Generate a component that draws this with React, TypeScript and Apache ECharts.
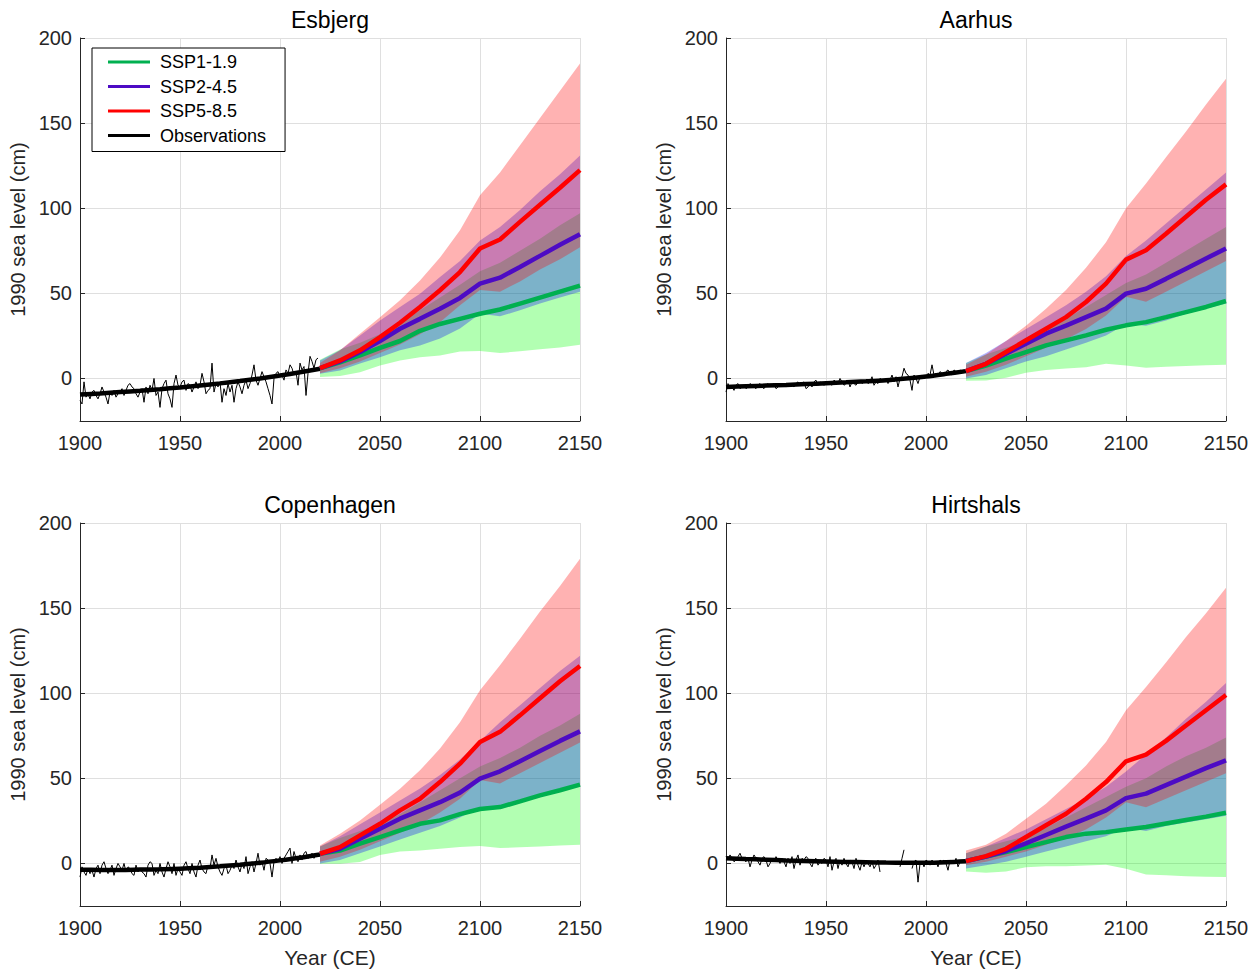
import React, { useEffect, useRef } from 'react';
import * as echarts from 'echarts';

// ---------- shared axes ----------
const projYears = [2020, 2030, 2040, 2050, 2060, 2070, 2080, 2090, 2100, 2110, 2120, 2130, 2140, 2150];
const trendYears = [1900, 1910, 1920, 1930, 1940, 1950, 1960, 1970, 1980, 1990, 2000, 2010, 2020];
const obsStartYear = 1900;
const yTicks = [0, 50, 100, 150, 200];
const stationNames = ['Esbjerg', 'Aarhus', 'Copenhagen', 'Hirtshals'];
const scenarioNames = ['SSP1-1.9', 'SSP2-4.5', 'SSP5-8.5'];

// ---------- Esbjerg ----------
const esbObs = [
  -13, -15, -2, -11, -9, -12, -8, -7, -10, -12,
  -9, -5, -8, -11, -15, -8, -10, -7, -11, -9,
  -8, -6, -10, -7, -4, -3, -5, -6, -9, -11,
  -8, -6, -14, -5, -9, -4, -7, 0, -10, -8,
  -17, -6, -3, -1, -9, -12, -17, -3, 2, -4,
  -5, -2, -1, -7, -3, -4, -8, -5, -2, -6,
  -4, 3, -2, -9, -7, -6, 9, -8, -3, -5,
  -2, -14, -6, -10, -3, -8, -4, -14, -6, -2,
  -5, -9, -4, -1, -6, -3, 2, 8, -1, -4,
  0, 4, 1, -2, -6, -10, -15, 0, 3, 4,
  1, 2, -1, 5, 3, 8, 6, 2, 4, -4,
  9, 5, 7, -10, 3, 13, 10, 6, 11, 12,
];
const esbTrend = [-9.5, -8.8, -8.0, -7.2, -6.3, -5.3, -4.1, -2.9, -1.5, 0.0, 1.7, 3.6, 5.7];
const esbSsp119Med = [6, 9.5, 13.5, 18, 22, 28, 32, 35, 38, 40.5, 44, 47.5, 51, 54.5];
const esbSsp119Lo = [0.8, 1.4, 3.7, 7.6, 10.6, 12.5, 13.5, 15.9, 16.1, 14.9, 16, 17.2, 18.2, 19.8];
const esbSsp119Hi = [11, 17, 21, 26, 33, 40, 47.5, 55, 63, 68, 75, 82, 90, 97];
const esbSsp245Med = [6, 10, 15.5, 22, 29.2, 35, 41, 47.3, 55.7, 59.2, 65.5, 72, 78.5, 84.7];
const esbSsp245Lo = [2.7, 4.7, 8.8, 12.5, 16.5, 19.4, 23.5, 29.4, 38, 36.5, 40, 44, 47.5, 51];
const esbSsp245Hi = [10.6, 16.5, 25.3, 34, 42, 49.8, 59.6, 69, 81, 89, 99, 110, 120, 131];
const esbSsp585Med = [6.1, 10.6, 16.5, 24.3, 32.7, 42, 51.8, 62.5, 76.3, 81.6, 92, 102, 112, 122.4];
const esbSsp585Lo = [3, 6, 10, 15, 20, 26, 33, 43, 52, 51, 57, 64, 70, 77];
const esbSsp585Hi = [9, 16.5, 26.3, 36, 45.9, 57.6, 71, 87, 107.6, 121, 137, 153, 169, 185];

// ---------- Aarhus ----------
const aarObs = [
  -8, -3, -6, -5, -7, -4, -3, -6, -5, -4,
  -6, -5, -3, -4, -5, -6, -4, -3, -5, -6,
  -4, -3, -5, -4, -3, -6, -5, -4, -3, -4,
  -5, -4, -3, -4, -5, -3, -2, -4, -3, -2,
  -6, -5, -3, -5, -2, -1, -4, -2, -3, -4,
  -3, -2, -3, -4, -1, -2, -3, 0, -2, -4,
  -3, -1, -5, -2, -3, -4, -2, -1, -3, -2,
  -1, -3, -2, 1, -4, -2, -3, 0, -1, -2,
  0, -3, -1, 2, -2, 1, -5, 0, 1, 6,
  3, 2, -1, -7, 2, 0, -3, 1, 2, 0,
  1, 3, 2, 8, 2, 3, 1, 4, 3, 2,
  4, 5, 3, 2, 5, 4, 3, 5, 4, 5,
];
const aarTrend = [-5.0, -4.6, -4.2, -3.8, -3.3, -2.8, -2.3, -1.7, -1.0, 0.0, 1.2, 2.7, 4.3];
const aarSsp119Med = [4.3, 7.6, 11.6, 15.5, 19.4, 22.4, 25.3, 28.6, 31.2, 33.1, 36, 39, 42, 45.5];
const aarSsp119Lo = [-1.4, -1.2, 0.4, 3.3, 4.9, 5.8, 6.6, 8.6, 7.6, 6.3, 6.8, 7.3, 7.7, 8];
const aarSsp119Hi = [9, 14, 18, 22, 28, 35, 42, 49, 56, 61, 68, 75, 82, 89];
const aarSsp245Med = [4.3, 8.6, 14.5, 20.4, 26.3, 31, 36, 41, 49.8, 52.7, 58.5, 64.5, 70.5, 76.3];
const aarSsp245Lo = [0, 2, 6, 10, 13, 17, 21, 25.3, 32, 31, 34, 38, 41, 44];
const aarSsp245Hi = [9, 15, 22, 29, 36, 43, 51, 60, 72, 81, 91, 101, 111, 121];
const aarSsp585Med = [4.3, 8.6, 15.5, 22.4, 29.2, 36, 44.9, 55.7, 69.8, 75.3, 85, 95, 105, 114];
const aarSsp585Lo = [1, 4, 8, 13, 18, 23, 29, 37, 48, 45, 51, 57, 63, 69];
const aarSsp585Hi = [8, 14, 22, 31, 41, 52, 65, 80, 100, 114.5, 130, 145, 161, 176];

// ---------- Copenhagen ----------
const cphObs = [
  -8, -2, -5, -7, -3, -6, -4, -8, -3, -1,
  -6, -1, 1, -3, -6, -4, -1, -7, -3, 0,
  -2, -4, 0, -5, -2, -3, -6, -7, -1, -5,
  -3, -5, -6, -8, -1, 1, 0, -7, -4, -6,
  0, -5, -8, -3, 1, -2, -6, 0, -7, -3,
  -5, -7, -1, 1, -3, -6, 0, -5, -8, -1,
  2, -3, -5, -6, -1, -3, 5, -1, 3, -2,
  -5, -7, -3, -1, -6, -4, -1, -3, 2, -2,
  -5, 0, -3, 4, -6, -2, 1, -5, 0, 6,
  -1, 1, -4, 3, 2, 0, -8, 1, 3, 1,
  4, 0, 3, 5, 7, 9, 0, 7, 3, 1,
  5, 2, 6, 7, 3, 4, 6, 3, 5, 6,
];
const cphTrend = [-3.7, -3.8, -3.8, -3.6, -3.4, -3.1, -2.5, -1.7, -0.7, 0.4, 1.8, 3.4, 5.3];
const cphSsp119Med = [5.7, 7.6, 11.6, 15.5, 19.4, 23.3, 25.3, 29, 32, 33.1, 36.5, 40, 43, 46.3];
const cphSsp119Lo = [-0.2, -0.2, 0.8, 5, 7, 7.6, 8.6, 9.6, 10.2, 9, 9.5, 10, 10.5, 11];
const cphSsp119Hi = [10, 15, 19, 23, 29, 36, 43, 50, 57, 62, 68, 75, 81, 88];
const cphSsp245Med = [5.7, 8.6, 14.5, 20.4, 26.3, 31.2, 36, 41.6, 49.8, 54.1, 60, 66, 72, 77.6];
const cphSsp245Lo = [0, 2, 6, 10, 14, 18, 22, 27, 33, 32, 36, 40, 43, 45];
const cphSsp245Hi = [10, 16, 23, 30, 37, 44, 52, 61, 72, 83, 93, 103, 113, 122];
const cphSsp585Med = [5.7, 9.6, 16.5, 23.3, 31.2, 38, 47.8, 58.6, 71.4, 77.3, 87, 97, 107, 116];
const cphSsp585Lo = [1, 4, 8, 13, 18, 23, 30, 38, 49, 47, 53, 59, 65, 71];
const cphSsp585Hi = [10.6, 17.5, 25.3, 34.5, 43.9, 54.7, 67.5, 83, 101.8, 116.5, 132, 148, 163, 179];

// ---------- Hirtshals ----------
const hirObs = [
  4, 2, 5, 3, 1, 2, 4, 6, 3, 2,
  1, 3, -2, 2, 5, 3, 1, -1, 3, 4,
  2, -2, 0, 3, 1, 4, 2, 0, 3, 1,
  -2, 3, 0, 4, -3, 2, 5, -1, 3, 2,
  4, 3, 0, -2, 2, 3, -1, 1, 0, 3,
  2, -2, 4, -4, 1, 3, -3, 2, -1, 3,
  0, -2, 2, 1, -3, 3, -1, -4, 1, -2,
  1, 0, -2, 1, -3, -1, 2, -5, null, null,
  null, null, null, null, null, null, null, -2, 3, 8,
  null, null, null, -3, 1, 2, -11, 0, 1, -2,
  2, 1, -1, 2, 0, 1, -2, 2, 1, 2,
  0, -4, 2, 1, 0, 3, -2, 1, 2, 1,
];
const hirTrend = [3.1, 2.6, 2.2, 1.8, 1.5, 1.2, 0.9, 0.7, 0.5, 0.4, 0.4, 0.7, 1.3];
const hirSsp119Med = [1.4, 4, 6.7, 9.6, 12.5, 15.5, 17.5, 18.4, 20, 21.4, 23.5, 25.5, 27.5, 29.8];
const hirSsp119Lo = [-4.7, -5.5, -4.7, -2.2, -1.6, -1.6, -1.2, -0.8, -3.1, -6.5, -7, -7.5, -7.8, -8];
const hirSsp119Hi = [6, 10, 13, 16, 21, 27, 33, 39, 45, 50, 57, 63, 68, 74];
const hirSsp245Med = [1.4, 4, 7.3, 11.8, 16.7, 21.6, 26.3, 31.2, 38.4, 41, 46, 51, 56, 60.6];
const hirSsp245Lo = [-3, -1, 1, 4, 7, 10, 13, 16, 21, 19, 22, 24, 26, 28];
const hirSsp245Hi = [6, 10, 15, 20, 26, 32, 38, 45, 54, 64, 74, 85, 95, 106];
const hirSsp585Med = [1.4, 4.3, 8.6, 15.5, 22.4, 29.2, 38, 47.8, 60, 63.9, 72, 81, 90, 99];
const hirSsp585Lo = [-1, 1, 4, 7, 11, 15, 20, 27, 36, 33, 38, 43, 48, 53];
const hirSsp585Hi = [7.6, 11, 17.5, 26.3, 35.1, 45.9, 57.6, 71.4, 90, 103.7, 118, 133, 147, 162];

const stations = [
  { obs: esbObs, trend: esbTrend, med: [esbSsp119Med, esbSsp245Med, esbSsp585Med], lo: [esbSsp119Lo, esbSsp245Lo, esbSsp585Lo], hi: [esbSsp119Hi, esbSsp245Hi, esbSsp585Hi] },
  { obs: aarObs, trend: aarTrend, med: [aarSsp119Med, aarSsp245Med, aarSsp585Med], lo: [aarSsp119Lo, aarSsp245Lo, aarSsp585Lo], hi: [aarSsp119Hi, aarSsp245Hi, aarSsp585Hi] },
  { obs: cphObs, trend: cphTrend, med: [cphSsp119Med, cphSsp245Med, cphSsp585Med], lo: [cphSsp119Lo, cphSsp245Lo, cphSsp585Lo], hi: [cphSsp119Hi, cphSsp245Hi, cphSsp585Hi] },
  { obs: hirObs, trend: hirTrend, med: [hirSsp119Med, hirSsp245Med, hirSsp585Med], lo: [hirSsp119Lo, hirSsp245Lo, hirSsp585Lo], hi: [hirSsp119Hi, hirSsp245Hi, hirSsp585Hi] },
];

const lineColors = ['#00b050', '#4d0bc4', '#ff0000'];
const bandColors = ['rgba(0,255,0,0.3)', 'rgba(0,0,255,0.3)', 'rgba(255,0,0,0.3)'];
const FONT = 'Liberation Sans, Arial, Helvetica, sans-serif';
const AXIS_COLOR = '#262626';
const GRID_COLOR = '#dfdfdf';

const gridPos = [
  { left: 80, top: 38 },
  { left: 726, top: 38 },
  { left: 80, top: 523 },
  { left: 726, top: 523 },
];

function bandSeries(i: number, lo: number[], hi: number[], color: string) {
  const data = projYears.map((y, k) => [y, lo[k], hi[k]]);
  return {
    type: 'custom',
    name: 'band',
    xAxisIndex: i,
    yAxisIndex: i,
    silent: true,
    clip: true,
    data,
    encode: { x: 0, y: [1, 2] },
    renderItem: (params: any, api: any) => {
      if (params.dataIndex !== 0) return { type: 'group', children: [] };
      const top = data.map((d) => api.coord([d[0], d[2]]));
      const bot = data.map((d) => api.coord([d[0], d[1]])).reverse();
      return {
        type: 'polygon',
        shape: { points: top.concat(bot) },
        style: { fill: color, stroke: 'none' },
      };
    },
  };
}

function buildOption() {
  const grid = gridPos.map((g) => ({ left: g.left, top: g.top, width: 500, height: 383 }));
  const xAxis = gridPos.map((_, i) => ({
    type: 'value',
    gridIndex: i,
    min: 1900,
    max: 2150,
    interval: 50,
    name: i >= 2 ? 'Year (CE)' : '',
    nameLocation: 'middle',
    nameGap: 41,
    nameTextStyle: { fontSize: 21, color: AXIS_COLOR, fontFamily: FONT },
    axisLine: { show: true, onZero: false, lineStyle: { color: AXIS_COLOR, width: 1 } },
    axisTick: { show: true, inside: true, length: 5, lineStyle: { color: AXIS_COLOR } },
    axisLabel: {
      fontSize: 20, color: AXIS_COLOR, fontFamily: FONT, margin: 12,
      formatter: (v: number) => String(v),
    },
    splitLine: { show: true, lineStyle: { color: GRID_COLOR, width: 1 } },
  }));
  const yAxis = gridPos.map((_, i) => ({
    type: 'value',
    gridIndex: i,
    min: -25,
    max: 200,
    name: '1990 sea level (cm)',
    nameLocation: 'middle',
    nameRotate: 90,
    nameGap: 52,
    nameTextStyle: { fontSize: 20, color: AXIS_COLOR, fontFamily: FONT },
    axisLine: { show: true, onZero: false, lineStyle: { color: AXIS_COLOR, width: 1 } },
    axisTick: { show: true, inside: true, length: 5, customValues: yTicks, lineStyle: { color: AXIS_COLOR } },
    axisLabel: {
      fontSize: 20, color: AXIS_COLOR, fontFamily: FONT, margin: 8, customValues: yTicks,
      formatter: (v: number) => String(v),
    },
    splitLine: { show: true, lineStyle: { color: GRID_COLOR, width: 1 } },
  }));
  const title = stationNames.map((n, i) => ({
    text: n,
    left: gridPos[i].left + 250,
    top: gridPos[i].top - 30,
    padding: 0,
    textAlign: 'center',
    textStyle: { fontSize: 23, fontWeight: 'normal', color: '#000', fontFamily: FONT },
  }));

  const series: any[] = [];
  stations.forEach((st, i) => {
    series.push({
      type: 'line',
      name: 'Annual observations',
      xAxisIndex: i,
      yAxisIndex: i,
      data: st.obs.map((v, k) => [obsStartYear + k, v]),
      symbol: 'none',
      connectNulls: false,
      lineStyle: { color: '#000', width: 1 },
      itemStyle: { color: '#000' },
      z: 2,
    });
    series.push({
      type: 'line',
      name: 'Observations',
      xAxisIndex: i,
      yAxisIndex: i,
      data: trendYears.map((y, k) => [y, st.trend[k]]),
      symbol: 'none',
      smooth: 0.3,
      color: '#000',
      lineStyle: { color: '#000', width: 4.5 },
      itemStyle: { color: '#000' },
      z: 3,
    });
    for (let s = 0; s < 3; s++) {
      const b: any = bandSeries(i, st.lo[s], st.hi[s], bandColors[s]);
      b.z = 4;
      series.push(b);
    }
    for (let s = 0; s < 3; s++) {
      series.push({
        type: 'line',
        name: scenarioNames[s],
        xAxisIndex: i,
        yAxisIndex: i,
        data: projYears.map((y, k) => [y, st.med[s][k]]),
        symbol: 'none',
        color: lineColors[s],
        lineStyle: { color: lineColors[s], width: 4.5 },
        itemStyle: { color: lineColors[s] },
        z: 5,
      });
    }
  });

  return {
    animation: false,
    backgroundColor: '#ffffff',
    title,
    grid,
    xAxis,
    yAxis,
    legend: {
      data: ['SSP1-1.9', 'SSP2-4.5', 'SSP5-8.5', 'Observations'],
      orient: 'vertical',
      left: 92,
      top: 48,
      backgroundColor: '#ffffff',
      borderColor: '#000000',
      borderWidth: 1,
      borderRadius: 0,
      padding: [4, 19, 6, 16],
      itemGap: 4.5,
      itemWidth: 42,
      itemHeight: 3,
      icon: 'rect',
      selectedMode: false,
      textStyle: { fontSize: 18, color: '#000', fontFamily: FONT, lineHeight: 20, padding: [0, 0, 0, 5] },
    },
    series,
  };
}

export default function App() {
  const ref = useRef<HTMLDivElement>(null);
  useEffect(() => {
    if (!ref.current) return;
    const chart = echarts.init(ref.current, null, { renderer: 'svg' });
    chart.setOption(buildOption() as any);
    return () => chart.dispose();
  }, []);
  return (
    <div
      ref={ref}
      style={{ position: 'absolute', left: 0, top: 0, width: 1258, height: 972, background: '#fff' }}
    />
  );
}
